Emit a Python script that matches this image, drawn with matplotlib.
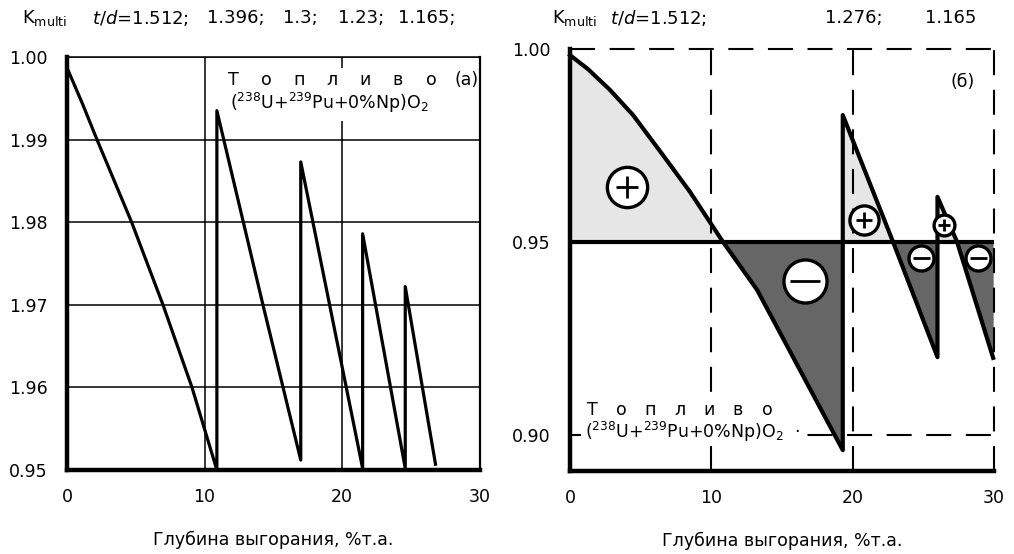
import matplotlib
matplotlib.use("Agg")
import numpy as np
import matplotlib.pyplot as plt
from matplotlib.patches import Rectangle

plt.rcParams["font.family"] = ["DejaVu Sans"]
plt.rcParams["mathtext.fontset"] = "dejavusans"

W, H = 1014, 554

# ---- (а) five cycles, k vs burnup ----------------------------------
a_burnup = [
    [0.0, 1.16, 2.18, 4.7, 6.98, 9.09, 10.9],
    [10.9, 14.25, 17.0],
    [17.0, 21.5],
    [21.5, 24.6],
    [24.6, 26.8],
]
a_k = [
    [0.9987, 0.9942, 0.990, 0.980, 0.970, 0.960, 0.950],
    [0.9935, 0.970, 0.9512],
    [0.9873, 0.9502],
    [0.9786, 0.9502],
    [0.9722, 0.9507],
]
a_yticks = [0.95, 0.96, 0.97, 0.98, 0.99, 1.00]
a_ylabels = ["0.95", "1.96", "1.97", "1.98", "1.99", "1.00"]
a_td = ["1.512;", "1.396;", "1.3;", "1.23;", "1.165;"]

# ---- (б) three cycles ----------------------------------------------
b_burnup = [
    [0.0, 1.27, 2.83, 4.46, 6.58, 8.49, 10.83, 13.24, 19.3],
    [19.3, 22.86, 26.0],
    [26.0, 27.39, 29.94],
]
b_k = [
    [0.9984, 0.9948, 0.9894, 0.9829, 0.9725, 0.9630, 0.950, 0.9376, 0.8961],
    [0.9829, 0.950, 0.9202],
    [0.9617, 0.950, 0.9200],
]
b_yticks = [0.90, 0.95, 1.00]
b_ylabels = ["0.90", "0.95", "1.00"]
b_td = ["1.512;", "1.276;", "1.165"]
k_ref = 0.95

xticks = [0, 10, 20, 30]
xlabel = "Глубина выгорания, %т.а."
fuel_word = "Топливо"
fuel_formula = "(" + r"$^{238}$" + "U+" + r"$^{239}$" + "Pu+0%Np)O" + r"$_2$"

# sign markers on (б): burnup, k, sign, marker diameter (pt)
signs = [
    (4.03, 0.9643, "+", 29),
    (16.63, 0.9399, "-", 31),
    (20.81, 0.9557, "+", 21),
    (24.84, 0.9459, "-", 18),
    (28.87, 0.9459, "-", 18),
    (26.47, 0.9544, "+", 15),
]


def px_rect(x0, y0, x1, y1):
    return [x0 / W, 1 - y1 / H, (x1 - x0) / W, (y1 - y0) / H]


def ftext(x, y, s, **kw):
    return fig.text(x / W, 1 - y / H, s, **kw)


def blank(x0, y0, x1, y1):
    # white backing behind an inset label
    r = Rectangle((x0 / W, 1 - y1 / H), (x1 - x0) / W, (y1 - y0) / H,
                  transform=fig.transFigure, fc="white", ec="none", zorder=2)
    fig.add_artist(r)


def fuel_label(x, y, step):
    for i, ch in enumerate(fuel_word):
        ftext(x + i * step, y, ch, fontsize=12.5, ha="center", va="center",
              zorder=3)


fig = plt.figure(figsize=(W / 100, H / 100), dpi=100)

# ------------------------------------------------------------------
# left panel
# ------------------------------------------------------------------
ax = fig.add_axes(px_rect(67, 57, 479.5, 470))
ax.set_xlim(0, 30)
ax.set_ylim(0.95, 1.00)
ax.set_xticks(xticks)
ax.set_yticks(a_yticks)
ax.set_yticklabels(a_ylabels)
ax.tick_params(length=0, labelsize=12.5)
ax.tick_params(axis="y", pad=14)
ax.tick_params(axis="x", pad=13)
ax.grid(True, color="black", lw=1.1, zorder=0.5)
ax.set_axisbelow(True)
for side, lw in [("left", 3.2), ("bottom", 3.2), ("top", 1.1), ("right", 1.6)]:
    ax.spines[side].set_linewidth(lw)

ax.plot(np.concatenate(a_burnup), np.concatenate(a_k), color="black",
        lw=2.3, zorder=4, clip_on=False)

blank(224, 68, 436, 121)
fuel_label(233, 80, 33)
ftext(230, 103, fuel_formula, fontsize=12.5, ha="left", va="center", zorder=3)
ftext(467, 80, "(а)", fontsize=12.5, ha="center", va="center", zorder=3)

ax.set_xlabel(xlabel, fontsize=12.5, labelpad=18)

ftext(22, 18, r"K$_{\mathrm{multi}}$", fontsize=13, ha="left", va="center")
ftext(92, 18, r"$t/d$=" + a_td[0], fontsize=13, ha="left", va="center")
for xp, s in zip([207, 283, 338, 398], a_td[1:]):
    ftext(xp, 18, s, fontsize=13, ha="left", va="center")

# ------------------------------------------------------------------
# right panel
# ------------------------------------------------------------------
bx = fig.add_axes(px_rect(570, 49, 994, 471))
bx.set_xlim(0, 30)
bx.set_ylim(0.8907, 1.0)
bx.set_xticks(xticks)
bx.set_yticks(b_yticks)
bx.set_yticklabels(b_ylabels)
bx.tick_params(length=0, labelsize=12.5)
bx.tick_params(axis="y", pad=14)
bx.tick_params(axis="x", pad=13)
bx.spines["top"].set_visible(False)
bx.spines["right"].set_visible(False)
bx.spines["left"].set_linewidth(3.2)
bx.spines["bottom"].set_linewidth(3.2)

dash = (0, (12, 7))
bx.axhline(1.0, color="black", lw=1.5, ls=dash, clip_on=False)
bx.axhline(0.90, color="black", lw=1.5, ls=dash)
for xv in xticks[1:]:
    bx.axvline(xv, color="black", lw=1.5, ls=dash, clip_on=False)

for bu, kk in zip(b_burnup, b_k):
    bu = np.array(bu)
    kk = np.array(kk)
    bx.fill_between(bu, kk, k_ref, where=kk >= k_ref, interpolate=True,
                    color="#e6e6e6", lw=0, zorder=1.5)
    bx.fill_between(bu, kk, k_ref, where=kk <= k_ref, interpolate=True,
                    color="#666666", lw=0, zorder=1.5)

bx.axhline(k_ref, color="black", lw=3.0, zorder=3)
bx.plot(np.concatenate(b_burnup), np.concatenate(b_k), color="black",
        lw=3.0, zorder=4, clip_on=False)

for sx, sy, sgn, d in signs:
    bx.plot(sx, sy, "o", ms=d, mfc="white", mec="black", mew=2.4, zorder=6)
    inner = "+" if sgn == "+" else "_"
    bx.plot(sx, sy, inner, ms=d * (0.55 if sgn == "+" else 0.68),
            color="black", mew=2.0, zorder=7)

ftext(963, 82, "(б)", fontsize=12.5, ha="center", va="center")
blank(581, 398, 806, 443)
fuel_label(592, 410, 29.2)
ftext(585, 432, fuel_formula + "  ·", fontsize=12.5, ha="left", va="center",
      zorder=3)

bx.set_xlabel(xlabel, fontsize=12.5, labelpad=18)

ftext(552, 18, r"K$_{\mathrm{multi}}$", fontsize=13, ha="left", va="center")
ftext(610, 18, r"$t/d$=" + b_td[0], fontsize=13, ha="left", va="center")
ftext(825, 18, b_td[1], fontsize=13, ha="left", va="center")
ftext(925, 18, b_td[2], fontsize=13, ha="left", va="center")

fig.savefig("out.png", dpi=100)
